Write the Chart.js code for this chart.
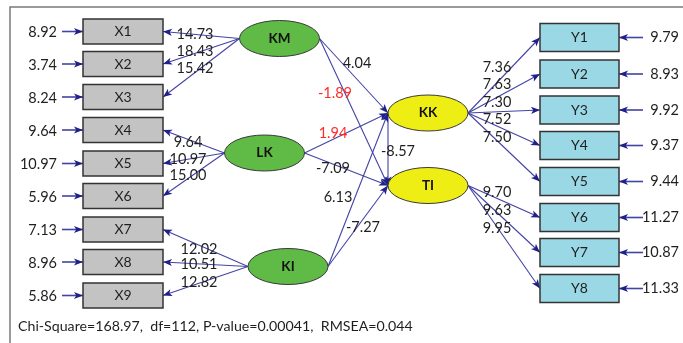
<!DOCTYPE html>
<html>
<head>
<meta charset="utf-8">
<script src="https://cdn.jsdelivr.net/npm/chart.js@4/dist/chart.umd.min.js"></script>
<style>
  html, body { margin:0; padding:0; background:#fff; }
  #wrap { position:relative; width:683px; height:343px; }
</style>
</head>
<body>
<div id="wrap"><canvas id="sem"></canvas></div>
<script>
// ---- data (t-values) ----
const xItems    = ['X1','X2','X3','X4','X5','X6','X7','X8','X9'];
const xErrors   = [8.92, 3.74, 8.24, 9.64, 10.97, 5.96, 7.13, 8.96, 5.86];
const xLoadings = [14.73, 18.43, 15.42, 9.64, 10.97, 15.00, 12.02, 10.51, 12.82];
const xFactor   = ['KM','KM','KM','LK','LK','LK','KI','KI','KI'];

const yItems    = ['Y1','Y2','Y3','Y4','Y5','Y6','Y7','Y8'];
const yErrors   = [9.79, 8.93, 9.92, 9.37, 9.44, 11.27, 10.87, 11.33];
const yLoadings = [7.36, 7.63, 7.30, 7.52, 7.50, 9.70, 9.63, 9.95];
const yFactor   = ['KK','KK','KK','KK','KK','TI','TI','TI'];

const exoLatents  = ['KM','LK','KI'];
const endoLatents = ['KK','TI'];
const pathFrom  = ['KM','KM','LK','LK','KI','KI','KK'];
const pathTo    = ['KK','TI','KK','TI','KK','TI','TI'];
const pathT     = [4.04, -1.89, 1.94, -7.09, 6.13, -7.27, -8.57];

const fitText = 'Chi-Square=168.97,  df=112, P-value=0.00041,  RMSEA=0.044';

// ---- layout (diagram units = page pixels) ----
const W = 683, H = 343;
const xBoxY   = [31.5, 64, 97, 130, 163.5, 196, 229.5, 262, 295.5];
const xBox    = { left:83, right:163, h:25 };
const yBoxY   = [37.5, 74, 110, 145.5, 181.5, 217.5, 252.5, 288.5];
const yBox    = { left:540, right:619, h:28 };
const latPos  = { KM:[279.5,38.5], LK:[264.5,153], KI:[288,266.5], KK:[428,113], TI:[428,185.5] };
const RX = 40, RY = 18;
const xLoadLbl = [[195,34],[195,51],[195,68],[188,142],[188,159],[188,175],[199,249],[199,264],[199,282]];
const yLoadLbl = [[497,67],[497,84],[497,102],[497,119],[497,137],[497,192],[497,210],[497,228]];
const pathLbl  = [[357,63],[335,93],[333,133],[333,168],[338,197],[363,227],[398,151]];

const FONT = "Lato, 'Noto Sans', sans-serif";
const EDGE = '#4343a6', HEAD = '#20208a', INK = '#1f1f1f', RED = '#ff2a2a';

// ---- edges as line datasets ----
const edges = [];
const edge = (a, b, w=1.1) => edges.push({
  data:[{x:a[0],y:a[1]},{x:b[0],y:b[1]}], showLine:true, borderColor:EDGE, borderWidth:w,
  pointRadius:0, fill:false, arrow:true
});
xItems.forEach((n,i) => {
  const p = latPos[xFactor[i]];
  edge([p[0]-RX, p[1]], [xBox.right, xBoxY[i]]);
  edge([62, xBoxY[i]], [xBox.left, xBoxY[i]], 1.6);
});
yItems.forEach((n,i) => {
  const p = latPos[yFactor[i]];
  edge([p[0]+RX, p[1]], [yBox.left, yBoxY[i]]);
  edge([643, yBoxY[i]], [yBox.right, yBoxY[i]], 1.6);
});
pathFrom.forEach((f,i) => {
  const a = latPos[f], b = latPos[pathTo[i]];
  const from = exoLatents.includes(f) ? [a[0]+RX, a[1]] : [a[0]-RX, a[1]];
  edge(from, [b[0]-RX, b[1]]);
});

// ---- drawing helpers ----
function arrowHead(ctx, x0, y0, x1, y1) {
  const ang = Math.atan2(y1-y0, x1-x0), L = 9, Wd = 3.6;
  ctx.save();
  ctx.translate(x1, y1); ctx.rotate(ang);
  ctx.beginPath(); ctx.moveTo(0,0); ctx.lineTo(-L,-Wd); ctx.lineTo(-L*0.75,0); ctx.lineTo(-L,Wd); ctx.closePath();
  ctx.fillStyle = HEAD; ctx.fill();
  ctx.restore();
}

const diagram = {
  id:'diagram',
  beforeDatasetsDraw(chart) {
    const { ctx, scales:{x:sx, y:sy} } = chart;
    ctx.save();
    ctx.strokeStyle = '#7a7a7a'; ctx.lineWidth = 1.5;
    ctx.beginPath();
    ctx.moveTo(sx.getPixelForValue(10), sy.getPixelForValue(H));
    ctx.lineTo(sx.getPixelForValue(10), sy.getPixelForValue(7));
    ctx.lineTo(sx.getPixelForValue(W), sy.getPixelForValue(7));
    ctx.stroke();
    ctx.restore();
  },
  afterDatasetsDraw(chart) {
    const { ctx, scales:{x:sx, y:sy} } = chart;
    const px = v => sx.getPixelForValue(v), py = v => sy.getPixelForValue(v);
    const text = (s, x, y, align='center', color=INK, weight='normal', size=14.5) => {
      ctx.font = `${weight} ${size}px ${FONT}`;
      ctx.fillStyle = color; ctx.textAlign = align; ctx.textBaseline = 'middle';
      ctx.fillText(s, px(x), py(y));
    };
    const box = (l, r, cy, h, fill, label) => {
      const x0 = px(l), x1 = px(r), y0 = py(cy-h/2), y1 = py(cy+h/2);
      ctx.fillStyle = fill; ctx.fillRect(x0, y0, x1-x0, y1-y0);
      ctx.strokeStyle = '#333'; ctx.lineWidth = 1.5; ctx.strokeRect(x0, y0, x1-x0, y1-y0);
      text(label, (l+r)/2, cy, 'center', INK, 'normal', 14);
    };
    const ellipse = (name, fill) => {
      const [cx, cy] = latPos[name];
      ctx.beginPath();
      ctx.ellipse(px(cx), py(cy), px(cx+RX)-px(cx), py(cy+RY)-py(cy), 0, 0, Math.PI*2);
      ctx.fillStyle = fill; ctx.fill();
      ctx.strokeStyle = '#3a3a3a'; ctx.lineWidth = 1; ctx.stroke();
      text(name, cx, cy, 'center', '#111', 'bold', 13.5);
    };

    ctx.save();
    chart.data.datasets.forEach(ds => {
      if (!ds.arrow) return;
      const [a, b] = ds.data;
      arrowHead(ctx, px(a.x), py(a.y), px(b.x), py(b.y));
    });

    xItems.forEach((n,i) => {
      box(xBox.left, xBox.right, xBoxY[i], xBox.h, '#c3c3c3', n);
      text(xErrors[i].toFixed(2), 57, xBoxY[i]+1, 'right');
      text(xLoadings[i].toFixed(2), xLoadLbl[i][0], xLoadLbl[i][1]);
    });
    yItems.forEach((n,i) => {
      box(yBox.left, yBox.right, yBoxY[i], yBox.h, '#9bd8e6', n);
      text(yErrors[i].toFixed(2), 679, yBoxY[i], 'right');
      text(yLoadings[i].toFixed(2), yLoadLbl[i][0], yLoadLbl[i][1]);
    });
    exoLatents.forEach(n => ellipse(n, '#5fba46'));
    endoLatents.forEach(n => ellipse(n, '#eeee14'));
    pathT.forEach((t,i) => {
      text(t.toFixed(2), pathLbl[i][0], pathLbl[i][1], 'center', Math.abs(t) < 1.96 ? RED : INK);
    });
    text(fitText, 18, 326, 'left', INK, 'normal', 14.2);
    ctx.restore();
  }
};

new Chart(document.getElementById('sem'), {
  type:'scatter',
  data:{ datasets: edges },
  options:{
    responsive:true, maintainAspectRatio:false, animation:false,
    layout:{ padding:0 },
    plugins:{ legend:{ display:false }, tooltip:{ enabled:false } },
    scales:{
      x:{ type:'linear', min:0, max:W, display:false },
      y:{ type:'linear', min:0, max:H, reverse:true, display:false }
    }
  },
  plugins:[diagram]
});
</script>
</body>
</html>
